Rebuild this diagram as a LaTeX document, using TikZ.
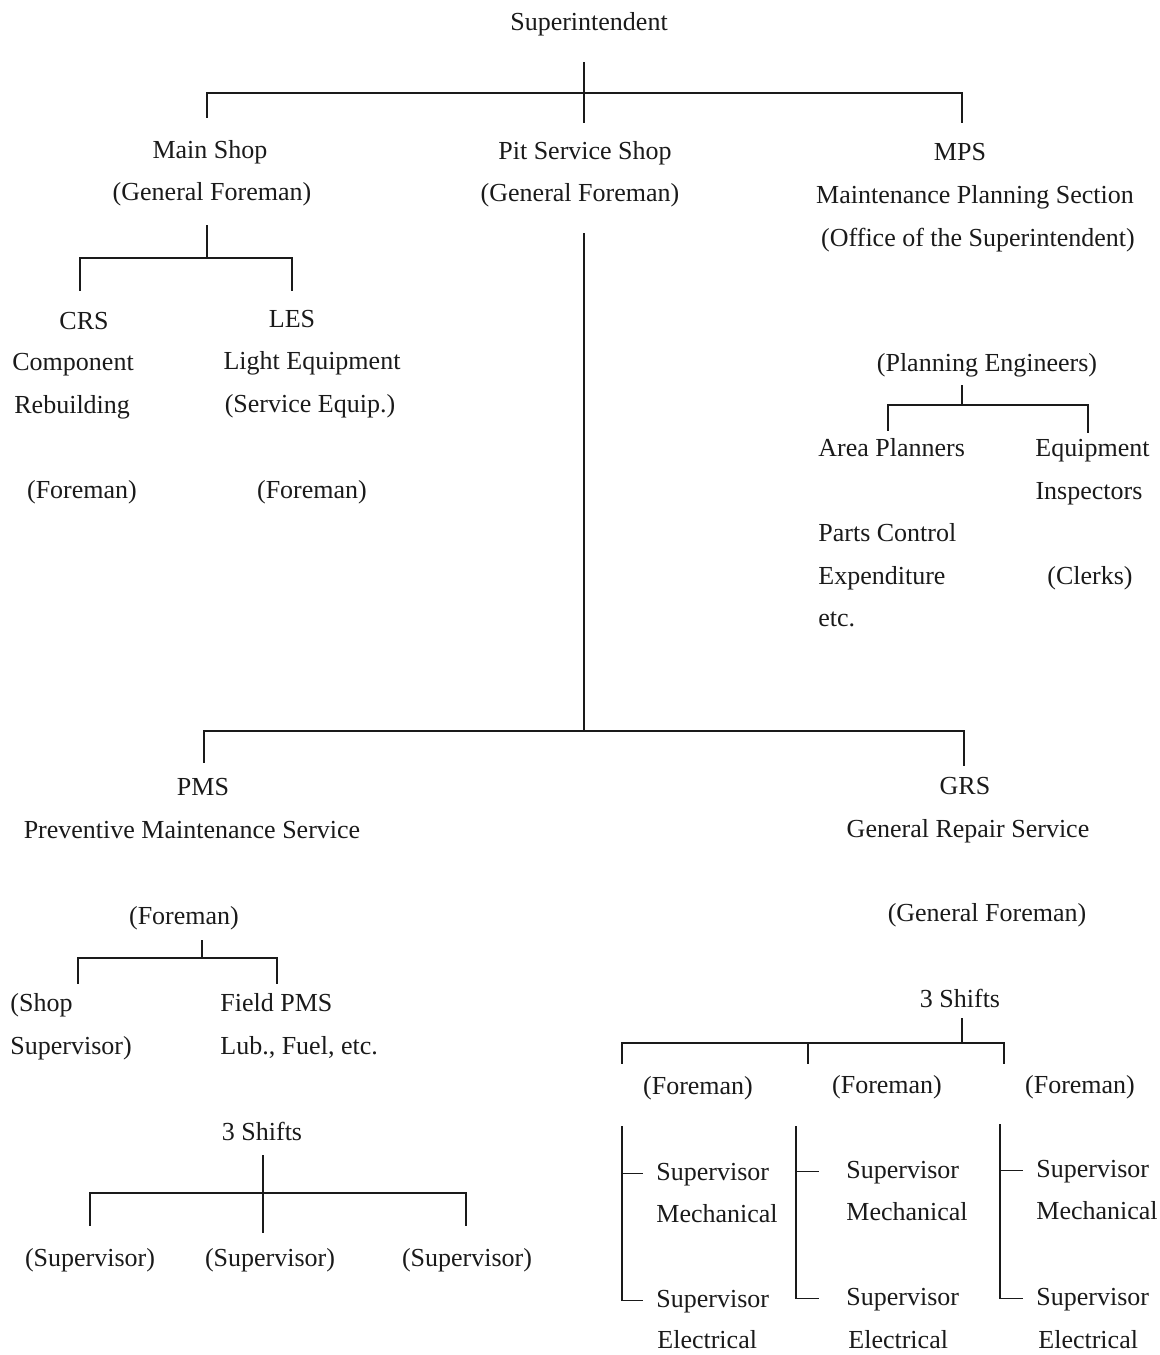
\documentclass[tikz,border=0pt]{standalone}
\usepackage{fontspec}
\setmainfont{Liberation Serif}
\usepackage{tikz}
\usepackage{xcolor}
\usetikzlibrary{positioning,calc}
\definecolor{inkblack}{HTML}{1A1A1A}
\tikzset{
  orglabel/.style={
    font=\fontsize{13}{15}\selectfont,
    text=inkblack,
    inner sep=0pt,
    text height=10pt,
    text depth=3.5pt,
    anchor=base
  },
  leftlabel/.style={orglabel, anchor=base west},
  orgline/.style={draw=inkblack, line width=0.9pt, line cap=rect}
}

\begin{document}
\begin{tikzpicture}[x=0.5pt, y=-0.5pt]
\useasboundingbox (0,0) rectangle (1160,1355);

\node[orglabel] (sup) at (589,30) {Superintendent};

\node[orglabel] (main) at (210,158) {Main Shop};
\node[orglabel] (maingf) at (212,200) {(General Foreman)};
\node[orglabel] (pit) at (585,159) {Pit Service Shop};
\node[orglabel] (pitgf) at (580,201) {(General Foreman)};
\node[orglabel] (mps) at (960,160) {MPS};
\node[orglabel] (mpsname) at (975,203) {Maintenance Planning Section};
\node[orglabel] (mpsoffice) at (978,246) {(Office of the Superintendent)};

\node[orglabel] (crs) at (84,329) {CRS};
\node[leftlabel] (crscomp) at (12,370) {Component};
\node[leftlabel] (crsreb) at (14,413) {Rebuilding};
\node[orglabel] (crsfm) at (82,498) {(Foreman)};
\node[orglabel] (les) at (292,327) {LES};
\node[orglabel] (lesname) at (312,369) {Light Equipment};
\node[orglabel] (lessvc) at (310,412) {(Service Equip.)};
\node[orglabel] (lesfm) at (312,498) {(Foreman)};

\node[orglabel] (pe) at (987,371) {(Planning Engineers)};
\node[leftlabel] (area) at (818,456) {Area Planners};
\node[leftlabel] (equip) at (1035,456) {Equipment};
\node[orglabel] (insp) at (1089,499) {Inspectors};
\node[leftlabel] (parts) at (818,541) {Parts Control};
\node[leftlabel] (expend) at (818,584) {Expenditure};
\node[orglabel] (clerks) at (1090,584) {(Clerks)};
\node[leftlabel] (etc) at (818,626) {etc.};

\node[orglabel] (pms) at (203,795) {PMS};
\node[orglabel] (pmsname) at (192,838) {Preventive Maintenance Service};
\node[orglabel] (grs) at (965,794) {GRS};
\node[orglabel] (grsname) at (968,837) {General Repair Service};

\node[orglabel] (pmsfm) at (184,924) {(Foreman)};
\node[leftlabel] (shop) at (10,1011) {(Shop};
\node[leftlabel] (shopsv) at (10,1054) {Supervisor)};
\node[leftlabel] (field) at (220,1011) {Field PMS};
\node[leftlabel] (lub) at (220,1054) {Lub., Fuel, etc.};
\node[orglabel] (pshift) at (262,1140) {3 Shifts};
\node[orglabel] (sv1) at (90,1266) {(Supervisor)};
\node[orglabel] (sv2) at (270,1266) {(Supervisor)};
\node[orglabel] (sv3) at (467,1266) {(Supervisor)};

\node[orglabel] (grsgf) at (987,921) {(General Foreman)};
\node[orglabel] (gshift) at (960,1007) {3 Shifts};
\node[orglabel] (fm1) at (698,1094) {(Foreman)};
\node[orglabel] (fm2) at (887,1093) {(Foreman)};
\node[orglabel] (fm3) at (1080,1093) {(Foreman)};

\node[leftlabel] (smech1) at (656,1180) {Supervisor};
\node[leftlabel] (mech1) at (656,1222) {Mechanical};
\node[leftlabel] (selec1) at (656,1307) {Supervisor};
\node[leftlabel] (elec1) at (657,1348) {Electrical};
\node[leftlabel] (smech2) at (846,1178) {Supervisor};
\node[leftlabel] (mech2) at (846,1220) {Mechanical};
\node[leftlabel] (selec2) at (846,1305) {Supervisor};
\node[leftlabel] (elec2) at (848,1348) {Electrical};
\node[leftlabel] (smech3) at (1036,1177) {Supervisor};
\node[leftlabel] (mech3) at (1036,1219) {Mechanical};
\node[leftlabel] (selec3) at (1036,1305) {Supervisor};
\node[leftlabel] (elec3) at (1038,1348) {Electrical};

\coordinate (topbar) at (584,93);
\coordinate (topL) at (207,93);
\coordinate (topR) at (962,93);
\coordinate (msL) at (80,258);
\coordinate (msM) at (207,258);
\coordinate (msR) at (292,258);
\coordinate (psL) at (204,731);
\coordinate (psM) at (584,731);
\coordinate (psR) at (964,731);
\coordinate (peL) at (888,405);
\coordinate (peM) at (962,405);
\coordinate (peR) at (1088,405);
\coordinate (pfL) at (78,958);
\coordinate (pfM) at (202,958);
\coordinate (pfR) at (277,958);
\coordinate (p3L) at (90,1193);
\coordinate (p3M) at (263,1193);
\coordinate (p3R) at (466,1193);
\coordinate (gL) at (622,1043);
\coordinate (gM) at (808,1043);
\coordinate (gR) at (1004,1043);
\coordinate (gS) at (962,1043);
\coordinate (b1) at (622,1127);
\coordinate (b2) at (796,1127);
\coordinate (b3) at (1000,1125);

\draw[orgline, shorten <=12.5pt, shorten >=8.5pt] (sup.south -| topbar) -- (pit.north -| topbar);
\draw[orgline, shorten <=10.5pt, shorten >=9pt] (main.north -| topL) -- (topL) -- (topR) -- (mps.north -| topR);

\draw[orgline, shorten <=9pt] (maingf.south -| msM) -- (msM);
\draw[orgline, shorten <=9.5pt, shorten >=8.5pt] (crs.north -| msL) -- (msL) -- (msR) -- (les.north -| msR);

\draw[orgline, shorten <=12.5pt] (pitgf.south -| psM) -- (psM);
\draw[orgline, shorten <=6.5pt, shorten >=4.5pt] (pms.north -| psL) -- (psL) -- (psR) -- (grs.north -| psR);

\draw[orgline, shorten <=3.5pt] (pe.south -| peM) -- (peM);
\draw[orgline, shorten <=3pt, shorten >=2pt] (area.north -| peL) -- (peL) -- (peR) -- (equip.north -| peR);

\draw[orgline, shorten <=4.5pt] (pmsfm.south -| pfM) -- (pfM);
\draw[orgline, shorten <=4pt, shorten >=4pt] (shop.north -| pfL) -- (pfL) -- (pfR) -- (field.north -| pfR);

\draw[orgline, shorten <=4pt, shorten >=7pt] (pshift.south -| p3M) -- (sv2.north -| p3M);
\draw[orgline, shorten <=10.5pt, shorten >=10.5pt] (sv1.north -| p3L) -- (p3L) -- (p3R) -- (sv3.north -| p3R);

\draw[orgline, shorten <=2pt] (gshift.south -| gS) -- (gS);
\draw[orgline, shorten <=5.5pt, shorten >=5pt] (fm1.north -| gL) -- (gL) -- (gR) -- (fm3.north -| gR);
\draw[orgline, shorten >=5pt] (gM) -- (fm2.north -| gM);

\draw[orgline, shorten >=7pt] (b1) |- (selec1.west);
\draw[orgline, shorten >=7pt] (b1 |- smech1.west) -- (smech1.west);
\draw[orgline, shorten >=14pt] (b2) |- (selec2.west);
\draw[orgline, shorten >=14pt] (b2 |- smech2.west) -- (smech2.west);
\draw[orgline, shorten >=7pt] (b3) |- (selec3.west);
\draw[orgline, shorten >=7pt] (b3 |- smech3.west) -- (smech3.west);
\end{tikzpicture}
\end{document}
